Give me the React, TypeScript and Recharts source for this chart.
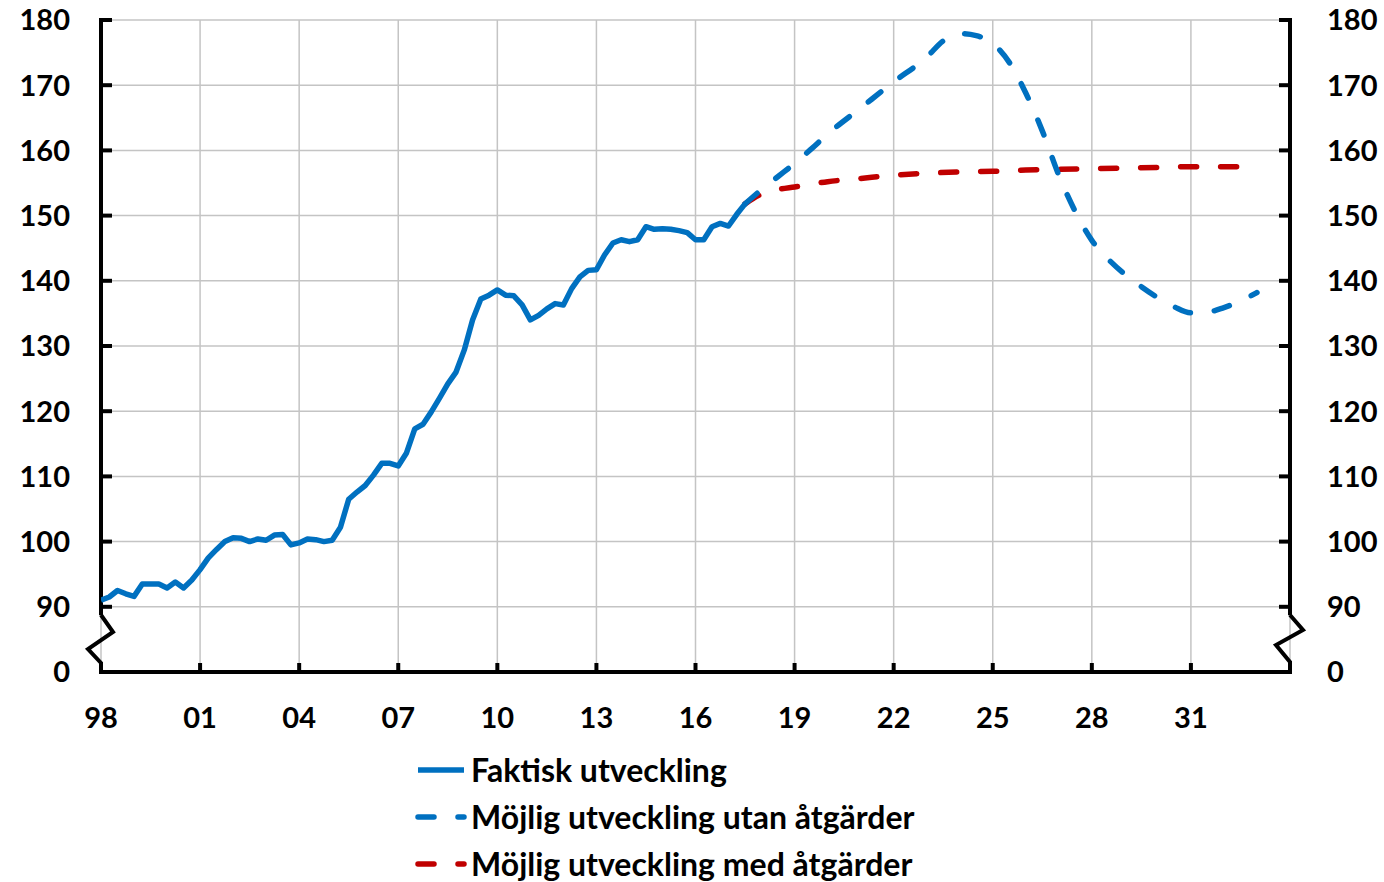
import { LineChart, Line, XAxis, YAxis, CartesianGrid, ReferenceLine } from "recharts";

const FONT = "Lato, 'Open Sans', sans-serif";
const BLUE = "#0070C0";
const RED = "#C00000";

// x axis: years, tick every third year
const yearTicks = [1998, 2001, 2004, 2007, 2010, 2013, 2016, 2019, 2022, 2025, 2028, 2031, 2034];
const yearLabels = ["98", "01", "04", "07", "10", "13", "16", "19", "22", "25", "28", "31", ""];

// y axis is broken: 0 sits one step below 90
const yTicks = [0, 10, 20, 30, 40, 50, 60, 70, 80, 90, 100];
const yTickLabels = ["0", "90", "100", "110", "120", "130", "140", "150", "160", "170", "180"];
const gridValues = [90, 100, 110, 120, 130, 140, 150, 160, 170, 180];
const OFFSET = 80;
const toPlot = (v: number) => v - OFFSET;

// Faktisk utveckling, quarterly from 1998 Q1
const faktisk = [
  91.0, 91.5, 92.5, 92.0,
  91.6, 93.5, 93.5, 93.5,
  92.9, 93.8, 92.9, 94.1,
  95.7, 97.5, 98.8, 100.0,
  100.6, 100.5, 100.0, 100.4,
  100.2, 101.0, 101.1, 99.5,
  99.8, 100.4, 100.3, 100.0,
  100.2, 102.2, 106.5, 107.6,
  108.6, 110.2, 112.0, 112.0,
  111.6, 113.6, 117.3, 118.0,
  119.9, 122.0, 124.2, 126.0,
  129.4, 134.0, 137.2, 137.8,
  138.6, 137.8, 137.7, 136.3,
  134.0, 134.7, 135.7, 136.5,
  136.3, 138.8, 140.6, 141.6,
  141.7, 144.0, 145.8, 146.3,
  146.0, 146.3, 148.3, 147.9,
  148.0, 147.9, 147.7, 147.4,
  146.3, 146.3, 148.3, 148.8,
  148.4, 150.2, 151.8,
];

// Möjlig utveckling utan åtgärder
const utanYears = [
  2017.5, 2018, 2018.5, 2019, 2019.5, 2020, 2021, 2022, 2023, 2023.5, 2024, 2024.5, 2025,
  2025.5, 2026, 2026.5, 2027, 2027.5, 2028, 2028.5, 2029, 2029.5, 2030, 2030.5, 2031,
  2031.5, 2032, 2032.5, 2033,
];
const utanValues = [
  151.8, 154.0, 156.0, 158.0, 160.2, 162.5, 166.5, 170.5, 174.3, 176.8, 177.9, 177.6, 176.4,
  173.5, 168.8, 163.0, 156.2, 150.6, 146.2, 143.3, 141.0, 139.1, 137.4, 136.0, 135.1,
  135.2, 135.9, 136.9, 138.2,
];

// Möjlig utveckling med åtgärder
const medYears = [
  2017.5, 2018, 2018.5, 2019, 2020, 2021, 2022, 2023, 2024, 2025, 2026, 2027, 2028, 2029,
  2030, 2031, 2032, 2032.8,
];
const medValues = [
  151.8, 153.3, 154.0, 154.4, 155.2, 155.7, 156.2, 156.5, 156.7, 156.8, 157.0, 157.1, 157.2,
  157.3, 157.4, 157.5, 157.5, 157.5,
];

const faktiskData = faktisk.map((v, i) => ({ x: 1998 + i * 0.25, v: toPlot(v) }));
const utanData = utanYears.map((x, i) => ({ x, v: toPlot(utanValues[i]) }));
const medData = medYears.map((x, i) => ({ x, v: toPlot(medValues[i]) }));

const LEFT_GAP = 31;
const RIGHT_GAP = 37;
const X_GAP = 46;
const LINE_W = 5.5;
const labelStyle = { fontFamily: FONT, fontWeight: 700, fontSize: 29, fill: "#000" };

const LeftTick = (props: any) => {
  const x = Number(props.x);
  const y = Number(props.y);
  const value = props.payload.value;
  const ax = x + LEFT_GAP;
  const label = yTickLabels[yTicks.indexOf(value)];
  // the 0 tick carries the zig-zag axis break
  const d =
    value === 0
      ? `M${ax},${y - 57} L${ax + 12},${y - 40} L${ax - 13},${y - 23} L${ax},${y - 9} L${ax},${y + 2}`
      : `M${ax},${y} L${ax + 11},${y}`;
  return (
    <g>
      <path d={d} stroke="#000" strokeWidth={4} fill="none" />
      <text x={x} y={y} dy="0.36em" textAnchor="end" style={labelStyle}>
        {label}
      </text>
    </g>
  );
};

const RightTick = (props: any) => {
  const x = Number(props.x);
  const y = Number(props.y);
  const value = props.payload.value;
  const ax = x - RIGHT_GAP;
  const label = yTickLabels[yTicks.indexOf(value)];
  const d =
    value === 0
      ? `M${ax},${y - 57} L${ax + 13},${y - 42} L${ax - 14},${y - 27} L${ax},${y - 10} L${ax},${y + 2}`
      : `M${ax},${y} L${ax - 11},${y}`;
  return (
    <g>
      <path d={d} stroke="#000" strokeWidth={4} fill="none" />
      <text x={x} y={y} dy="0.36em" textAnchor="start" style={labelStyle}>
        {label}
      </text>
    </g>
  );
};

const BottomTick = (props: any) => {
  const x = Number(props.x);
  const y = Number(props.y);
  const ay = y - X_GAP;
  const label = yearLabels[yearTicks.indexOf(props.payload.value)];
  const edge = props.payload.value === 1998 || props.payload.value === 2034;
  return (
    <g>
      {!edge && <path d={`M${x},${ay} L${x},${ay - 9}`} stroke="#000" strokeWidth={4} fill="none" />}
      <text x={x} y={y} dy="0.36em" textAnchor="middle" style={labelStyle}>
        {label}
      </text>
    </g>
  );
};

const legendItems = [
  { name: "Faktisk utveckling", color: BLUE, dash: undefined },
  { name: "Möjlig utveckling utan åtgärder", color: BLUE, dash: "16 24" },
  { name: "Möjlig utveckling med åtgärder", color: RED, dash: "16 24" },
];

export default function App() {
  return (
    <div style={{ position: "absolute", left: 0, top: 0, width: 1384, height: 882, background: "#fff" }}>
      <LineChart width={1384} height={882} margin={{ top: 20, right: 14, left: 21, bottom: 150 }}>
        <CartesianGrid horizontal={false} stroke="#c4c4c4" strokeWidth={1.5} />
        {gridValues.map((g) => (
          <ReferenceLine key={g} y={toPlot(g)} stroke="#c4c4c4" strokeWidth={1.5} />
        ))}
        <XAxis
          dataKey="x"
          type="number"
          domain={[1998, 2034]}
          ticks={yearTicks}
          interval={0}
          height={60}
          tickSize={0}
          tickMargin={X_GAP}
          tickLine={false}
          axisLine={{ stroke: "#000", strokeWidth: 4 }}
          tick={(p: any) => <BottomTick {...p} />}
          allowDataOverflow
        />
        <YAxis
          type="number"
          domain={[0, 100]}
          ticks={yTicks}
          interval={0}
          width={80}
          tickSize={0}
          tickMargin={LEFT_GAP}
          tickLine={false}
          axisLine={false}
          tick={(p: any) => <LeftTick {...p} />}
        />
        <YAxis
          yAxisId="right"
          orientation="right"
          type="number"
          domain={[0, 100]}
          ticks={yTicks}
          interval={0}
          width={80}
          tickSize={0}
          tickMargin={RIGHT_GAP}
          tickLine={false}
          axisLine={false}
          tick={(p: any) => <RightTick {...p} />}
        />
        {/* vertical axis lines above the break */}
        <ReferenceLine
          segment={[{ x: 1998, y: 8.7 }, { x: 1998, y: 100.3 }]}
          stroke="#000"
          strokeWidth={4}
          ifOverflow="visible"
        />
        <ReferenceLine
          segment={[{ x: 2034, y: 8.7 }, { x: 2034, y: 100.3 }]}
          stroke="#000"
          strokeWidth={4}
          ifOverflow="visible"
        />
        <Line
          data={medData}
          dataKey="v"
          yAxisId="right"
          type="monotone"
          stroke={RED}
          strokeWidth={LINE_W}
          strokeDasharray="16 24"
          strokeLinecap="round"
          dot={false}
          isAnimationActive={false}
        />
        <Line
          data={utanData}
          dataKey="v"
          type="monotone"
          stroke={BLUE}
          strokeWidth={LINE_W}
          strokeDasharray="16 24"
          strokeLinecap="round"
          dot={false}
          isAnimationActive={false}
        />
        <Line
          data={faktiskData}
          dataKey="v"
          type="linear"
          stroke={BLUE}
          strokeWidth={LINE_W}
          strokeLinejoin="round"
          dot={false}
          isAnimationActive={false}
        />
      </LineChart>
      <div style={{ position: "absolute", left: 414, top: 746 }}>
        {legendItems.map((it) => (
          <div key={it.name} style={{ display: "flex", alignItems: "center", height: 47 }}>
            <svg width={56} height={20}>
              <line
                x1={4}
                x2={50}
                y1={10}
                y2={10}
                stroke={it.color}
                strokeWidth={LINE_W}
                strokeDasharray={it.dash}
                strokeLinecap={it.dash ? "round" : "butt"}
              />
            </svg>
            <span style={{ fontFamily: FONT, fontWeight: 700, fontSize: 32, color: "#000", marginLeft: 1 }}>
              {it.name}
            </span>
          </div>
        ))}
      </div>
    </div>
  );
}
